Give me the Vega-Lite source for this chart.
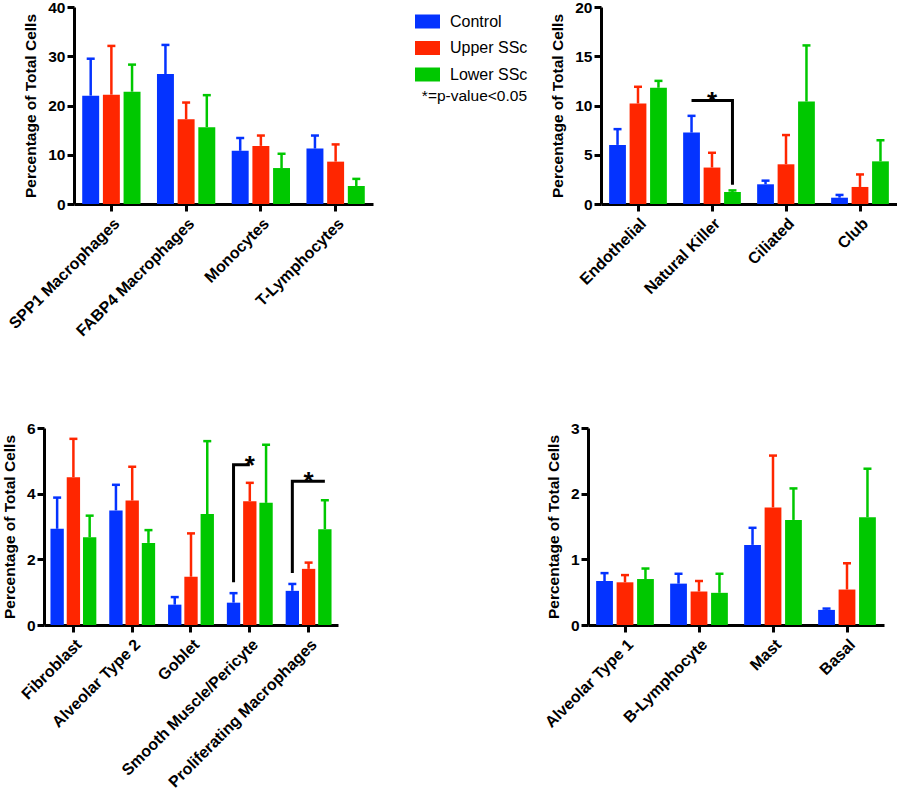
{
  "$schema": "https://vega.github.io/schema/vega-lite/v6.json",
  "padding": {"left": 0, "top": 0, "right": 0, "bottom": 0},
  "datasets": {
    "bars": [
      {"panel": "p1", "cell": "SPP1 Macrophages", "group": "Control", "mean": 22.0, "upper": 29.5},
      {"panel": "p1", "cell": "SPP1 Macrophages", "group": "Upper SSc", "mean": 22.2, "upper": 32.1},
      {"panel": "p1", "cell": "SPP1 Macrophages", "group": "Lower SSc", "mean": 22.8, "upper": 28.3},
      {"panel": "p1", "cell": "FABP4 Macrophages", "group": "Control", "mean": 26.4, "upper": 32.3},
      {"panel": "p1", "cell": "FABP4 Macrophages", "group": "Upper SSc", "mean": 17.2, "upper": 20.6},
      {"panel": "p1", "cell": "FABP4 Macrophages", "group": "Lower SSc", "mean": 15.6, "upper": 22.1},
      {"panel": "p1", "cell": "Monocytes", "group": "Control", "mean": 10.8, "upper": 13.4},
      {"panel": "p1", "cell": "Monocytes", "group": "Upper SSc", "mean": 11.8, "upper": 13.9},
      {"panel": "p1", "cell": "Monocytes", "group": "Lower SSc", "mean": 7.3, "upper": 10.2},
      {"panel": "p1", "cell": "T-Lymphocytes", "group": "Control", "mean": 11.25, "upper": 13.9},
      {"panel": "p1", "cell": "T-Lymphocytes", "group": "Upper SSc", "mean": 8.6, "upper": 12.1},
      {"panel": "p1", "cell": "T-Lymphocytes", "group": "Lower SSc", "mean": 3.66, "upper": 5.1},
      {"panel": "p2", "cell": "Endothelial", "group": "Control", "mean": 6.0, "upper": 7.6},
      {"panel": "p2", "cell": "Endothelial", "group": "Upper SSc", "mean": 10.2, "upper": 11.9},
      {"panel": "p2", "cell": "Endothelial", "group": "Lower SSc", "mean": 11.8, "upper": 12.5},
      {"panel": "p2", "cell": "Natural Killer", "group": "Control", "mean": 7.25, "upper": 8.95},
      {"panel": "p2", "cell": "Natural Killer", "group": "Upper SSc", "mean": 3.7, "upper": 5.2},
      {"panel": "p2", "cell": "Natural Killer", "group": "Lower SSc", "mean": 1.22, "upper": 1.38},
      {"panel": "p2", "cell": "Ciliated", "group": "Control", "mean": 2.0, "upper": 2.37},
      {"panel": "p2", "cell": "Ciliated", "group": "Upper SSc", "mean": 4.03, "upper": 7.0},
      {"panel": "p2", "cell": "Ciliated", "group": "Lower SSc", "mean": 10.4, "upper": 16.1},
      {"panel": "p2", "cell": "Club", "group": "Control", "mean": 0.64, "upper": 0.92},
      {"panel": "p2", "cell": "Club", "group": "Upper SSc", "mean": 1.73, "upper": 3.0},
      {"panel": "p2", "cell": "Club", "group": "Lower SSc", "mean": 4.33, "upper": 6.47},
      {"panel": "p3", "cell": "Fibroblast", "group": "Control", "mean": 2.93, "upper": 3.88},
      {"panel": "p3", "cell": "Fibroblast", "group": "Upper SSc", "mean": 4.5, "upper": 5.67},
      {"panel": "p3", "cell": "Fibroblast", "group": "Lower SSc", "mean": 2.67, "upper": 3.33},
      {"panel": "p3", "cell": "Alveolar Type 2", "group": "Control", "mean": 3.49, "upper": 4.27},
      {"panel": "p3", "cell": "Alveolar Type 2", "group": "Upper SSc", "mean": 3.79, "upper": 4.82},
      {"panel": "p3", "cell": "Alveolar Type 2", "group": "Lower SSc", "mean": 2.5, "upper": 2.89},
      {"panel": "p3", "cell": "Goblet", "group": "Control", "mean": 0.62, "upper": 0.85},
      {"panel": "p3", "cell": "Goblet", "group": "Upper SSc", "mean": 1.47, "upper": 2.79},
      {"panel": "p3", "cell": "Goblet", "group": "Lower SSc", "mean": 3.38, "upper": 5.6},
      {"panel": "p3", "cell": "Smooth Muscle/Pericyte", "group": "Control", "mean": 0.68, "upper": 0.97},
      {"panel": "p3", "cell": "Smooth Muscle/Pericyte", "group": "Upper SSc", "mean": 3.77, "upper": 4.33},
      {"panel": "p3", "cell": "Smooth Muscle/Pericyte", "group": "Lower SSc", "mean": 3.72, "upper": 5.49},
      {"panel": "p3", "cell": "Proliferating Macrophages", "group": "Control", "mean": 1.04, "upper": 1.25},
      {"panel": "p3", "cell": "Proliferating Macrophages", "group": "Upper SSc", "mean": 1.71, "upper": 1.9},
      {"panel": "p3", "cell": "Proliferating Macrophages", "group": "Lower SSc", "mean": 2.92, "upper": 3.8},
      {"panel": "p4", "cell": "Alveolar Type 1", "group": "Control", "mean": 0.67, "upper": 0.79},
      {"panel": "p4", "cell": "Alveolar Type 1", "group": "Upper SSc", "mean": 0.65, "upper": 0.76},
      {"panel": "p4", "cell": "Alveolar Type 1", "group": "Lower SSc", "mean": 0.7, "upper": 0.86},
      {"panel": "p4", "cell": "B-Lymphocyte", "group": "Control", "mean": 0.63, "upper": 0.78},
      {"panel": "p4", "cell": "B-Lymphocyte", "group": "Upper SSc", "mean": 0.51, "upper": 0.67},
      {"panel": "p4", "cell": "B-Lymphocyte", "group": "Lower SSc", "mean": 0.49, "upper": 0.78},
      {"panel": "p4", "cell": "Mast", "group": "Control", "mean": 1.22, "upper": 1.48},
      {"panel": "p4", "cell": "Mast", "group": "Upper SSc", "mean": 1.79, "upper": 2.58},
      {"panel": "p4", "cell": "Mast", "group": "Lower SSc", "mean": 1.6, "upper": 2.08},
      {"panel": "p4", "cell": "Basal", "group": "Control", "mean": 0.23, "upper": 0.25},
      {"panel": "p4", "cell": "Basal", "group": "Upper SSc", "mean": 0.54, "upper": 0.94},
      {"panel": "p4", "cell": "Basal", "group": "Lower SSc", "mean": 1.64, "upper": 2.38}
    ],
    "brackets": [
      {"panel": "p2", "id": "nk", "cell": "Natural Killer", "group": "Control", "y": 10.5, "step": 1},
      {"panel": "p2", "id": "nk", "cell": "Natural Killer", "group": "Lower SSc", "y": 10.5, "step": 2},
      {"panel": "p2", "id": "nk", "cell": "Natural Killer", "group": "Lower SSc", "y": 1.96, "step": 3},
      {"panel": "p3", "id": "sm", "cell": "Smooth Muscle/Pericyte", "group": "Control", "y": 1.3, "step": 1},
      {"panel": "p3", "id": "sm", "cell": "Smooth Muscle/Pericyte", "group": "Control", "y": 4.88, "step": 2},
      {"panel": "p3", "id": "sm", "cell": "Smooth Muscle/Pericyte", "group": "Upper SSc", "y": 4.88, "step": 3},
      {"panel": "p3", "id": "pm", "cell": "Proliferating Macrophages", "group": "Control", "y": 1.58, "step": 1},
      {"panel": "p3", "id": "pm", "cell": "Proliferating Macrophages", "group": "Control", "y": 4.38, "step": 2},
      {"panel": "p3", "id": "pm", "cell": "Proliferating Macrophages", "group": "Lower SSc", "y": 4.38, "step": 3}
    ],
    "stars": [
      {"panel": "p2", "cell": "Natural Killer", "group": "Upper SSc", "y": 10.5, "label": "*"},
      {"panel": "p3", "cell": "Smooth Muscle/Pericyte", "group": "Upper SSc", "y": 4.88, "label": "*"},
      {"panel": "p3", "cell": "Proliferating Macrophages", "group": "Upper SSc", "y": 4.38, "label": "*"}
    ]
  },
  "resolve": {"scale": {"xOffset": "independent"}},
  "columns": 1,
  "align": "none",
  "spacing": 82,
  "concat": [
    {
      "resolve": {"scale": {"xOffset": "independent"}},
      "spacing": 4,
      "hconcat": [
        {"width": 1, "height": 1, "data": {"values": []}, "mark": "point"},
        {
          "resolve": {"scale": {"xOffset": "independent"}},
          "spacing": 177,
          "hconcat": [
            {
              "width": 299, "height": 197,
              "encoding": {
                "x": {"field": "cell", "type": "nominal", "title": null, "scale": {"domain": ["SPP1 Macrophages", "FABP4 Macrophages", "Monocytes", "T-Lymphocytes"], "paddingInner": 0.22, "paddingOuter": 0.11}},
                "xOffset": {"field": "group", "type": "nominal", "scale": {"domain": ["Control", "Upper SSc", "Lower SSc"], "paddingInner": 0.18, "paddingOuter": 0}}
              },
              "layer": [
                {"data": {"name": "bars"}, "transform": [{"filter": "datum.panel === 'p1'"}], "mark": {"type": "bar", "opacity": 1},
                 "encoding": {
                   "y": {"field": "mean", "type": "quantitative", "title": "Percentage of Total Cells", "scale": {"domain": [0, 40], "nice": false}, "axis": {"values": [0, 10, 20, 30, 40]}},
                   "color": {"field": "group", "type": "nominal", "scale": {"domain": ["Control", "Upper SSc", "Lower SSc"], "range": ["#0433ff", "#ff2600", "#00c800"]},
                     "legend": {"orient": "none", "legendX": 415, "legendY": 2, "title": "*=p-value<0.05", "titleOrient": "bottom", "titleAnchor": "end", "titleFontWeight": "normal", "titleFontSize": 15.5, "titleColor": "black", "titlePadding": 6, "labelFontSize": 16, "labelColor": "black", "labelOffset": 10, "labelLimit": 300, "symbolType": "M-1,-0.56L1,-0.56L1,0.56L-1,0.56Z", "symbolSize": 625, "symbolStrokeWidth": 0, "symbolOpacity": 1, "rowPadding": 5.5, "padding": 0}}
                 }},
                {"data": {"name": "bars"}, "transform": [{"filter": "datum.panel === 'p1'"}], "mark": {"type": "rule", "strokeWidth": 2.5, "opacity": 1},
                 "encoding": {
                   "y": {"field": "mean", "type": "quantitative", "title": "Percentage of Total Cells", "scale": {"domain": [0, 40], "nice": false}},
                   "y2": {"field": "upper"},
                   "color": {"field": "group", "type": "nominal"}
                 }},
                {"data": {"name": "bars"}, "transform": [{"filter": "datum.panel === 'p1'"}], "mark": {"type": "tick", "thickness": 2.5, "size": 8, "orient": "horizontal", "opacity": 1},
                 "encoding": {
                   "y": {"field": "upper", "type": "quantitative", "title": "Percentage of Total Cells", "scale": {"domain": [0, 40], "nice": false}},
                   "color": {"field": "group", "type": "nominal"}
                 }}
              ]
            },
            {
              "width": 296, "height": 197,
              "encoding": {
                "x": {"field": "cell", "type": "nominal", "title": null, "scale": {"domain": ["Endothelial", "Natural Killer", "Ciliated", "Club"], "paddingInner": 0.22, "paddingOuter": 0.11}},
                "xOffset": {"field": "group", "type": "nominal", "scale": {"domain": ["Control", "Upper SSc", "Lower SSc"], "paddingInner": 0.18, "paddingOuter": 0}}
              },
              "layer": [
                {"data": {"name": "bars"}, "transform": [{"filter": "datum.panel === 'p2'"}], "mark": {"type": "bar", "opacity": 1},
                 "encoding": {
                   "y": {"field": "mean", "type": "quantitative", "title": "Percentage of Total Cells", "scale": {"domain": [0, 20], "nice": false}, "axis": {"values": [0, 5, 10, 15, 20]}},
                   "color": {"field": "group", "type": "nominal"}
                 }},
                {"data": {"name": "bars"}, "transform": [{"filter": "datum.panel === 'p2'"}], "mark": {"type": "rule", "strokeWidth": 2.5, "opacity": 1},
                 "encoding": {
                   "y": {"field": "mean", "type": "quantitative", "title": "Percentage of Total Cells", "scale": {"domain": [0, 20], "nice": false}},
                   "y2": {"field": "upper"},
                   "color": {"field": "group", "type": "nominal"}
                 }},
                {"data": {"name": "bars"}, "transform": [{"filter": "datum.panel === 'p2'"}], "mark": {"type": "tick", "thickness": 2.5, "size": 8, "orient": "horizontal", "opacity": 1},
                 "encoding": {
                   "y": {"field": "upper", "type": "quantitative", "title": "Percentage of Total Cells", "scale": {"domain": [0, 20], "nice": false}},
                   "color": {"field": "group", "type": "nominal"}
                 }},
                {"data": {"name": "brackets"}, "transform": [{"filter": "datum.panel === 'p2'"}], "mark": {"type": "line", "color": "black", "strokeWidth": 3, "strokeJoin": "miter", "strokeCap": "butt"},
                 "encoding": {
                   "y": {"field": "y", "type": "quantitative", "title": "Percentage of Total Cells", "scale": {"domain": [0, 20], "nice": false}},
                   "order": {"field": "step", "type": "quantitative"},
                   "detail": {"field": "id", "type": "nominal"}
                 }},
                {"data": {"name": "stars"}, "transform": [{"filter": "datum.panel === 'p2'"}], "mark": {"type": "text", "fontSize": 26, "fontWeight": "bold", "baseline": "alphabetic", "align": "center", "dy": 9, "color": "black"},
                 "encoding": {
                   "y": {"field": "y", "type": "quantitative", "title": "Percentage of Total Cells", "scale": {"domain": [0, 20], "nice": false}},
                   "text": {"field": "label", "type": "nominal"}
                 }}
              ]
            }
          ]
        }
      ]
    },
    {
      "resolve": {"scale": {"xOffset": "independent"}},
      "spacing": 1,
      "hconcat": [
        {"width": 1, "height": 1, "data": {"values": []}, "mark": "point"},
        {
          "resolve": {"scale": {"xOffset": "independent"}},
          "spacing": 203,
          "hconcat": [
            {
              "width": 294, "height": 197,
              "encoding": {
                "x": {"field": "cell", "type": "nominal", "title": null, "scale": {"domain": ["Fibroblast", "Alveolar Type 2", "Goblet", "Smooth Muscle/Pericyte", "Proliferating Macrophages"], "paddingInner": 0.22, "paddingOuter": 0.11}},
                "xOffset": {"field": "group", "type": "nominal", "scale": {"domain": ["Control", "Upper SSc", "Lower SSc"], "paddingInner": 0.18, "paddingOuter": 0}}
              },
              "layer": [
                {"data": {"name": "bars"}, "transform": [{"filter": "datum.panel === 'p3'"}], "mark": {"type": "bar", "opacity": 1},
                 "encoding": {
                   "y": {"field": "mean", "type": "quantitative", "title": "Percentage of Total Cells", "scale": {"domain": [0, 6], "nice": false}, "axis": {"values": [0, 2, 4, 6]}},
                   "color": {"field": "group", "type": "nominal"}
                 }},
                {"data": {"name": "bars"}, "transform": [{"filter": "datum.panel === 'p3'"}], "mark": {"type": "rule", "strokeWidth": 2.5, "opacity": 1},
                 "encoding": {
                   "y": {"field": "mean", "type": "quantitative", "title": "Percentage of Total Cells", "scale": {"domain": [0, 6], "nice": false}},
                   "y2": {"field": "upper"},
                   "color": {"field": "group", "type": "nominal"}
                 }},
                {"data": {"name": "bars"}, "transform": [{"filter": "datum.panel === 'p3'"}], "mark": {"type": "tick", "thickness": 2.5, "size": 8, "orient": "horizontal", "opacity": 1},
                 "encoding": {
                   "y": {"field": "upper", "type": "quantitative", "title": "Percentage of Total Cells", "scale": {"domain": [0, 6], "nice": false}},
                   "color": {"field": "group", "type": "nominal"}
                 }},
                {"data": {"name": "brackets"}, "transform": [{"filter": "datum.panel === 'p3'"}], "mark": {"type": "line", "color": "black", "strokeWidth": 3, "strokeJoin": "miter", "strokeCap": "butt"},
                 "encoding": {
                   "y": {"field": "y", "type": "quantitative", "title": "Percentage of Total Cells", "scale": {"domain": [0, 6], "nice": false}},
                   "order": {"field": "step", "type": "quantitative"},
                   "detail": {"field": "id", "type": "nominal"}
                 }},
                {"data": {"name": "stars"}, "transform": [{"filter": "datum.panel === 'p3'"}], "mark": {"type": "text", "fontSize": 26, "fontWeight": "bold", "baseline": "alphabetic", "align": "center", "dy": 9, "color": "black"},
                 "encoding": {
                   "y": {"field": "y", "type": "quantitative", "title": "Percentage of Total Cells", "scale": {"domain": [0, 6], "nice": false}},
                   "text": {"field": "label", "type": "nominal"}
                 }}
              ]
            },
            {
              "width": 296, "height": 197,
              "encoding": {
                "x": {"field": "cell", "type": "nominal", "title": null, "scale": {"domain": ["Alveolar Type 1", "B-Lymphocyte", "Mast", "Basal"], "paddingInner": 0.22, "paddingOuter": 0.11}},
                "xOffset": {"field": "group", "type": "nominal", "scale": {"domain": ["Control", "Upper SSc", "Lower SSc"], "paddingInner": 0.18, "paddingOuter": 0}}
              },
              "layer": [
                {"data": {"name": "bars"}, "transform": [{"filter": "datum.panel === 'p4'"}], "mark": {"type": "bar", "opacity": 1},
                 "encoding": {
                   "y": {"field": "mean", "type": "quantitative", "title": "Percentage of Total Cells", "scale": {"domain": [0, 3], "nice": false}, "axis": {"values": [0, 1, 2, 3], "format": "d"}},
                   "color": {"field": "group", "type": "nominal"}
                 }},
                {"data": {"name": "bars"}, "transform": [{"filter": "datum.panel === 'p4'"}], "mark": {"type": "rule", "strokeWidth": 2.5, "opacity": 1},
                 "encoding": {
                   "y": {"field": "mean", "type": "quantitative", "title": "Percentage of Total Cells", "scale": {"domain": [0, 3], "nice": false}},
                   "y2": {"field": "upper"},
                   "color": {"field": "group", "type": "nominal"}
                 }},
                {"data": {"name": "bars"}, "transform": [{"filter": "datum.panel === 'p4'"}], "mark": {"type": "tick", "thickness": 2.5, "size": 8, "orient": "horizontal", "opacity": 1},
                 "encoding": {
                   "y": {"field": "upper", "type": "quantitative", "title": "Percentage of Total Cells", "scale": {"domain": [0, 3], "nice": false}},
                   "color": {"field": "group", "type": "nominal"}
                 }}
              ]
            }
          ]
        }
      ]
    }
  ],
  "config": {
    "view": {"stroke": null},
    "font": "Liberation Sans",
    "axis": {
      "grid": false,
      "domainColor": "black", "domainWidth": 3,
      "tickColor": "black", "tickWidth": 3, "tickSize": 7,
      "labelFont": "Liberation Sans", "labelFontWeight": "bold", "labelFontSize": 15.5, "labelColor": "black", "labelPadding": 2, "labelLimit": 400,
      "titleFont": "Liberation Sans", "titleFontWeight": "bold", "titleFontSize": 15.5, "titleColor": "black", "titlePadding": 9
    },
    "axisX": {"labelAngle": -45, "labelPadding": 4, "labelFontSize": 16},
    "legend": {"labelFont": "Liberation Sans", "titleFont": "Liberation Sans"}
  }
}
